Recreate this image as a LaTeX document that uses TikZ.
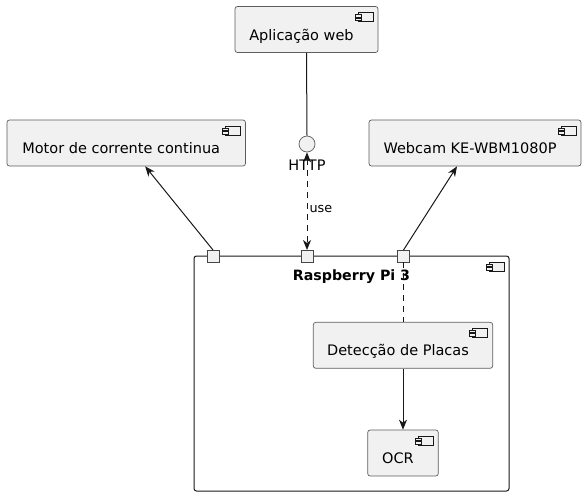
\documentclass[tikz,border=0pt]{standalone}
\usepackage{fontspec}
\setmainfont{DejaVu Sans}
\usetikzlibrary{arrows.meta, positioning, quotes}

\definecolor{umlfill}{HTML}{F1F1F1}
\definecolor{umlline}{HTML}{181818}

\tikzset{
	icon/.style = {path picture={
		\draw[umlline, line width=0.7pt, fill=umlfill, sharp corners]
		([shift={(-20pt,-6pt)}]path picture bounding box.north east) rectangle
		([shift={(-5pt,-15pt)}]path picture bounding box.north east);
		\draw[umlline, line width=0.7pt, fill=umlfill, sharp corners]
		([shift={(-23pt,-8pt)}]path picture bounding box.north east) rectangle
		([shift={(-17pt,-10.5pt)}]path picture bounding box.north east);
		\draw[umlline, line width=0.7pt, fill=umlfill, sharp corners]
		([shift={(-23pt,-11.5pt)}]path picture bounding box.north east) rectangle
		([shift={(-17pt,-14pt)}]path picture bounding box.north east);
	}}
}

\begin{document}
\begin{tikzpicture}[
	x=1pt, y=-1pt,
	font=\fontsize{14.5}{17}\selectfont,
	comp/.style = {draw=umlline!70, fill=umlfill, line width=0.7pt, rounded corners=2.5pt,
	               minimum height=46pt, text height=21pt, text depth=0pt, inner xsep=2pt,
	               execute at end node={\hspace*{10pt}}, icon},
	port/.style = {draw=umlline!80, fill=umlfill, line width=1pt, minimum size=12pt,
	               inner sep=0pt, outer sep=0pt},
	conn/.style = {draw=umlline, line width=1pt, -{Stealth[length=10pt, width=8pt, inset=3pt]}},
	dep/.style  = {draw=umlline, line width=1pt, dash pattern=on 6pt off 5pt},
	every edge quotes/.style = {font=\fontsize{12.8}{14}\selectfont}
	]
	\useasboundingbox (0,0) rectangle (586,496);
%
	\node (app)   [comp, minimum width=143pt]   at (306.5,29.5) {Aplicação web};
	\node (motor) [comp, minimum width=238.5pt] at (126.2,143)  {Motor de corrente continua};
	\node (cam)   [comp, minimum width=212pt]   at (475,143)    {Webcam KE-WBM1080P};
%
	\node (http) [circle, draw=umlline!70, fill=umlfill, line width=0.7pt,
	              minimum size=16pt, inner sep=0pt] at (307,144) {};
	\node (httplbl) [anchor=base, inner sep=0pt] at (307,170) {HTTP};
%
	\node (rpi) [draw=umlline, fill=none, line width=1pt, rounded corners=2.5pt,
	             minimum width=315pt, minimum height=235pt, icon] at (351.5,373.5) {};
	\node (rpilbl) [anchor=base, inner sep=0pt, font=\fontsize{14.2}{17}\bfseries]
	      at ([yshift=-25pt] rpi.north) {Raspberry Pi 3};
%
	\node (det) [comp, minimum width=179.4pt] at (403,345.3) {Detecção de Placas};
	\node (ocr) [comp, minimum width=70.6pt, below=61pt of det] {OCR};
%
	\node (p1) [port] at (213,256) {};
	\node (p2) [port] at (307,256) {};
	\node (p3) [port] at (403.5,256) {};
%
	\draw[umlline, line width=1pt] (app.south) -- (http.north);
	\draw[dep, {Stealth[length=10pt, width=8pt, inset=3pt]}-{Stealth[length=10pt, width=8pt, inset=3pt]}]
	      (http.south) to ["use" {anchor=base west, inner sep=0pt, pos=0.62, xshift=2pt}] (p2.north);
%
	\draw[conn] (p1.north) -- ([xshift=19pt] motor.south);
	\draw[conn] (p3.north) -- ([xshift=-18pt] cam.south);
	\draw[dep]  (p3.south) -- (p3.south |- det.north);
	\draw[conn] (det.south) -- (ocr.north);
\end{tikzpicture}
\end{document}
